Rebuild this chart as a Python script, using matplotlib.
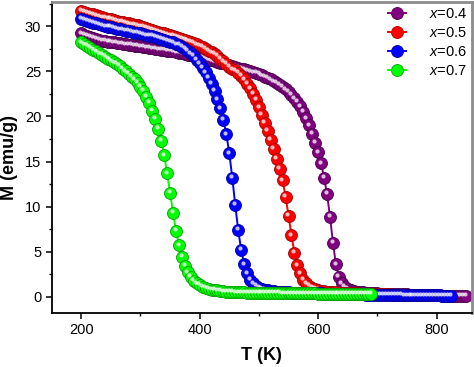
import numpy as np
import matplotlib
matplotlib.use("Agg")
import matplotlib.pyplot as plt
import matplotlib.transforms as mtransforms
from matplotlib.legend_handler import HandlerTuple
from matplotlib.ticker import MultipleLocator

plt.rcParams['font.family'] = ['Liberation Sans', 'DejaVu Sans']
plt.rcParams['mathtext.fontset'] = 'custom'
plt.rcParams['mathtext.it'] = 'Liberation Sans:italic'
plt.rcParams['mathtext.rm'] = 'Liberation Sans'

# ---------------- data ----------------
labels = ['$x$=0.4', '$x$=0.5', '$x$=0.6', '$x$=0.7']
colors = ['#800080', '#FF0000', '#0000FF', '#00FF00']
edge_colors = ['#4a004a', '#a00000', '#0000a0', '#00a000']

T_x04 = np.arange(200, 855, 5)
M_x04 = [29.2, 29.05, 28.9, 28.8, 28.7, 28.6, 28.5, 28.4, 28.35, 28.3,
         28.25, 28.2, 28.15, 28.1, 28.05, 28.0, 27.95, 27.9, 27.85, 27.8,
         27.75, 27.7, 27.65, 27.6, 27.55, 27.5, 27.45, 27.4, 27.35, 27.3,
         27.25, 27.2, 27.1, 27.05, 27.0, 26.9, 26.85, 26.8, 26.7, 26.65,
         26.6, 26.5, 26.4, 26.3, 26.2, 26.1, 26.0, 25.95, 25.9, 25.8,
         25.7, 25.6, 25.5, 25.4, 25.3, 25.2, 25.1, 25.0, 24.9, 24.8,
         24.7, 24.55, 24.4, 24.25, 24.1, 23.9, 23.7, 23.5, 23.25, 23.0,
         22.7, 22.4, 22.0, 21.6, 21.1, 20.5, 19.8, 19.0, 18.1, 17.1,
         16.0, 14.8, 13.2, 11.4, 8.9, 6.0, 3.6, 2.2, 1.5, 1.1,
         0.85, 0.7, 0.6, 0.55, 0.5, 0.48, 0.46, 0.44, 0.42, 0.4,
         0.38, 0.36, 0.35, 0.34, 0.32, 0.31, 0.3, 0.29, 0.28, 0.27,
         0.26, 0.25, 0.24, 0.23, 0.22, 0.21, 0.2, 0.19, 0.18, 0.17,
         0.16, 0.15, 0.14, 0.13, 0.12, 0.12, 0.11, 0.1, 0.1, 0.09,
         0.08]

T_x05 = np.arange(200, 805, 5)
M_x05 = [31.7, 31.6, 31.5, 31.4, 31.3, 31.2, 31.1, 31.0, 30.9, 30.85,
         30.8, 30.7, 30.6, 30.5, 30.45, 30.4, 30.3, 30.2, 30.15, 30.1,
         30.0, 29.9, 29.8, 29.7, 29.6, 29.5, 29.4, 29.3, 29.2, 29.1,
         29.0, 28.9, 28.8, 28.7, 28.6, 28.5, 28.4, 28.3, 28.15, 28.0,
         27.85, 27.7, 27.5, 27.3, 27.1, 26.9, 26.7, 26.4, 26.1, 25.8,
         25.5, 25.2, 25.1, 24.8, 24.5, 24.1, 23.6, 23.1, 22.5, 21.8,
         21.0, 20.2, 19.3, 18.4, 17.4, 16.4, 15.3, 14.2, 12.9, 11.1,
         9.0, 6.8, 4.9, 3.5, 2.6, 1.9, 1.5, 1.2, 1.0, 0.85,
         0.75, 0.68, 0.62, 0.58, 0.54, 0.5, 0.48, 0.46, 0.44, 0.42,
         0.4, 0.39, 0.38, 0.37, 0.36, 0.35, 0.34, 0.33, 0.32, 0.31,
         0.3, 0.29, 0.28, 0.27, 0.26, 0.25, 0.24, 0.23, 0.22, 0.21,
         0.2, 0.2, 0.19, 0.18, 0.18, 0.17, 0.17, 0.16, 0.16, 0.15,
         0.15]

T_x06 = np.arange(200, 830, 5)
M_x06 = [30.8, 30.7, 30.6, 30.5, 30.4, 30.3, 30.2, 30.1, 30.0, 29.95,
         29.9, 29.8, 29.7, 29.65, 29.6, 29.5, 29.45, 29.4, 29.3, 29.25,
         29.2, 29.1, 29.0, 28.95, 28.9, 28.8, 28.7, 28.6, 28.5, 28.4,
         28.3, 28.2, 28.0, 27.9, 27.7, 27.5, 27.3, 27.0, 26.7, 26.3,
         25.9, 25.4, 24.9, 24.3, 23.6, 22.8, 21.9, 20.9, 19.6, 18.0,
         15.9, 13.2, 10.2, 7.4, 5.2, 3.6, 2.6, 1.9, 1.5, 1.2,
         1.0, 0.9, 0.8, 0.72, 0.66, 0.62, 0.58, 0.55, 0.52, 0.5,
         0.48, 0.47, 0.46, 0.45, 0.44, 0.43, 0.42, 0.41, 0.4, 0.39,
         0.38, 0.37, 0.36, 0.35, 0.34, 0.33, 0.32, 0.31, 0.3, 0.3,
         0.29, 0.28, 0.28, 0.27, 0.26, 0.26, 0.25, 0.24, 0.24, 0.23,
         0.23, 0.22, 0.22, 0.21, 0.21, 0.2, 0.2, 0.19, 0.19, 0.18,
         0.18, 0.18, 0.17, 0.17, 0.17, 0.16, 0.16, 0.16, 0.15, 0.15,
         0.15, 0.15, 0.14, 0.14, 0.14, 0.14]

T_x07 = np.arange(200, 695, 5)
M_x07 = [28.2, 28.0, 27.8, 27.6, 27.4, 27.2, 27.0, 26.8, 26.6, 26.4,
         26.2, 26.0, 25.8, 25.6, 25.3, 25.0, 24.7, 24.4, 24.1, 23.7,
         23.3, 22.8, 22.2, 21.5, 20.6, 19.7, 18.6, 17.3, 15.7, 13.7,
         11.5, 9.3, 7.3, 5.7, 4.4, 3.4, 2.7, 2.2, 1.8, 1.5,
         1.3, 1.1, 1.0, 0.9, 0.8, 0.75, 0.7, 0.65, 0.6, 0.58,
         0.55, 0.53, 0.51, 0.5, 0.49, 0.48, 0.47, 0.46, 0.45, 0.45,
         0.44, 0.44, 0.43, 0.43, 0.42, 0.42, 0.41, 0.41, 0.4, 0.4,
         0.4, 0.39, 0.39, 0.39, 0.38, 0.38, 0.38, 0.37, 0.37, 0.37,
         0.36, 0.36, 0.36, 0.36, 0.35, 0.35, 0.35, 0.35, 0.34, 0.34,
         0.34, 0.34, 0.33, 0.33, 0.33, 0.33, 0.33, 0.32, 0.32]

series_T = [T_x04, T_x05, T_x06, T_x07]
series_M = [M_x04, M_x05, M_x06, M_x07]

# ---------------- figure ----------------
fig = plt.figure(figsize=(4.74, 3.67), dpi=100)
ax = fig.add_axes([0.109, 0.147, 0.887, 0.848])

hl_trans = mtransforms.offset_copy(ax.transData, fig=fig, x=-1.0, y=1.2, units='points')

handles = []
for T, M, c, ec, lab in zip(series_T, series_M, colors, edge_colors, labels):
    ln, = ax.plot(T, M, '-', color=c, lw=1.4, marker='o', ms=8.6,
                  mfc=c, mec=ec, mew=0.6, label=lab)
    hl, = ax.plot(T, M, linestyle='none', marker='o', ms=3.0,
                  mfc='white', mec='none', alpha=0.75, transform=hl_trans)
    lh, = ax.plot([], [], '-', color=c, lw=1.4, marker='o', ms=8.6,
                  mfc=c, mec=ec, mew=0.6)
    hh, = ax.plot([], [], linestyle='none', marker='o', ms=3.0,
                  mfc='white', mec='none', alpha=0.75)
    handles.append((lh, hh))

ax.set_xlim(150, 860)
ax.set_ylim(-1.8, 32.7)
ax.xaxis.set_major_locator(MultipleLocator(200))
ax.xaxis.set_minor_locator(MultipleLocator(100))
ax.yaxis.set_major_locator(MultipleLocator(5))
ax.yaxis.set_minor_locator(MultipleLocator(2.5))

ax.tick_params(which='major', direction='out', length=4.5, width=1.1,
               labelsize=10.5, top=False, right=False, pad=3)
ax.tick_params(which='minor', direction='out', length=2.5, width=1.0,
               top=False, right=False)

for s in ['left', 'bottom']:
    ax.spines[s].set_linewidth(1.3)
    ax.spines[s].set_color('black')
for s in ['top', 'right']:
    ax.spines[s].set_linewidth(2.0)
    ax.spines[s].set_color('#8c8c8c')

ax.set_xlabel('T (K)', fontsize=13, fontweight='bold', labelpad=7)
ax.set_ylabel('M (emu/g)', fontsize=13, fontweight='bold', labelpad=5)

leg = ax.legend(handles, labels, loc='upper right', frameon=False,
                fontsize=10.5, handlelength=2.5, handletextpad=0.3,
                labelspacing=0.35, borderaxespad=0.15, borderpad=0.2,
                handler_map={tuple: HandlerTuple(ndivide=None, pad=0)})

fig.savefig('out.png', dpi=100)
